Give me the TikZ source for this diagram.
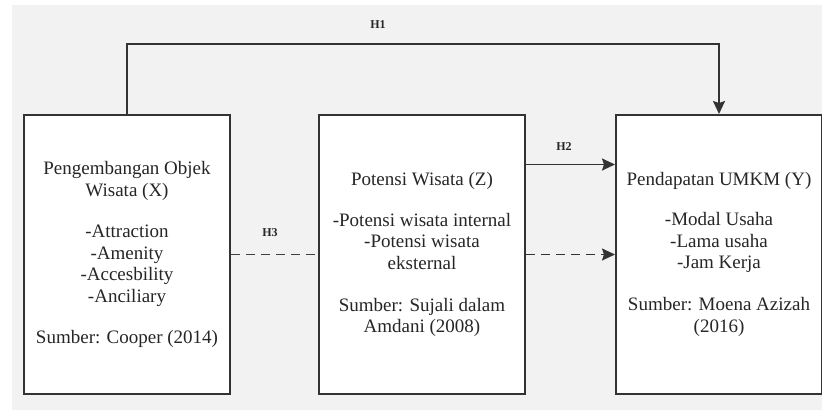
\documentclass[tikz,border=0pt]{standalone}
\usepackage{fontspec}
\setmainfont{Liberation Serif}
\usetikzlibrary{positioning, arrows.meta}

\begin{document}
\begin{tikzpicture}[
                x=1pt, y=-1pt,
                node distance=87pt,
                varbox/.style={rectangle, draw=black!80, line width=2pt, fill=white,
                               minimum width=206pt, minimum height=279pt, align=center,
                               text=black!85, font=\fontsize{19}{21.7}\selectfont},
                hlabel/.style={font=\fontsize{12}{14}\selectfont\bfseries, text=black!85},
                arrow/.style={-{Stealth[length=13pt, width=12pt, inset=2pt]}, line width=1.8pt, draw=black!80},
                link/.style={line width=1.8pt, draw=black!75, dash pattern=on 9pt off 6pt}
            ]
                \useasboundingbox (0,0) rectangle (822,410);
                \fill[gray!10] (12,5) rectangle (822,410);

                \node[varbox] (px) at (127,254.5) {Pengembangan Objek\\ Wisata (X)\\[19pt]
                    -Attraction\\ -Amenity\\ -Accesbility\\ -Anciliary\\[19pt] Sumber: Cooper (2014)};
                \node[varbox, right=of px] (pz) {Potensi Wisata (Z)\\[19pt]
                    -Potensi wisata internal\\ -Potensi wisata\\ eksternal\\[20pt]
                    Sumber: Sujali dalam\\ Amdani (2008)};
                \node[varbox, right=89pt of pz] (py) {Pendapatan UMKM (Y)\\[18pt]
                    -Modal Usaha\\ -Lama usaha\\ -Jam Kerja\\[20pt] Sumber: Moena Azizah\\ (2016)};

                \coordinate (top) at (127,44);
                \node[hlabel] (h1) at (378,25) {H1};
                \node[hlabel] (h2) at (564,147) {H2};
                \node[hlabel] (h3) at (270,233) {H3};

                \draw[arrow] (px.north) -- (top) -| (py.north);
                \draw[arrow] ([yshift=90pt]pz.east) -- ([yshift=90pt]py.west);
                \draw[link] (px.east) -- (pz.west);
                \draw[link, arrow] (pz.east) -- (py.west);
            \end{tikzpicture}
\end{document}
